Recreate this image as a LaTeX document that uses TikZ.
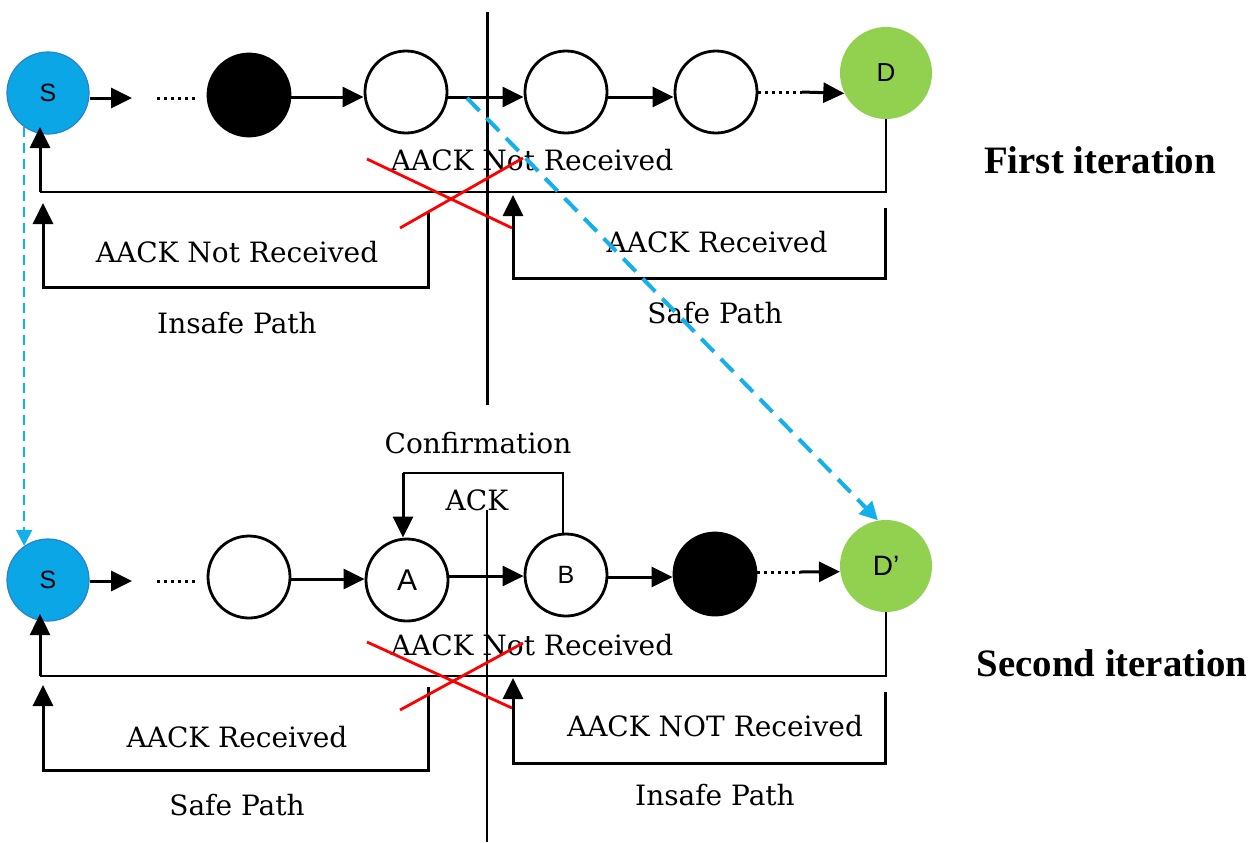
\documentclass[tikz,border=0pt]{standalone}
\usepackage{fontspec}
\setmainfont{DejaVu Serif}
\newfontfamily\labelsans{Liberation Sans}
\newfontfamily\titleserif{Liberation Serif}
\usetikzlibrary{arrows.meta}

\definecolor{srcblue}{RGB}{10,166,230}
\definecolor{srcedge}{RGB}{40,130,205}
\definecolor{dstgreen}{RGB}{146,208,80}
\definecolor{linkblue}{RGB}{20,176,236}
\definecolor{crossred}{RGB}{255,0,0}

\begin{document}
\begin{tikzpicture}[x=0.5pt,y=-0.5pt,
  every node/.style={inner sep=0pt},
  hop/.style={circle,draw=black,line width=1.4pt,fill=white,minimum size=41pt,
    font=\labelsans\fontsize{12.5}{14}\selectfont},
  hopblack/.style={hop,fill=black},
  source/.style={circle,draw=srcedge,line width=0.6pt,fill=srcblue,minimum size=41pt,
    font=\labelsans\fontsize{12.5}{14}\selectfont},
  dest/.style={circle,fill=dstgreen,minimum size=46pt,
    font=\labelsans\fontsize{13}{14}\selectfont},
  link/.style={line width=1.5pt,-{Triangle[length=10.5pt,width=10pt]}},
  dots/.style={line width=1.5pt,dash pattern=on 1.5pt off 2pt},
  loopline/.style={line width=1.1pt},
  uparrow/.style={line width=1.5pt,{Triangle[length=10.5pt,width=10pt]}-},
  cross/.style={crossred,line width=1.4pt},
  jump/.style={linkblue,line width=2pt,dash pattern=on 9pt off 5pt,
    -{Triangle[length=9pt,width=9pt]}},
  drop/.style={linkblue,line width=1pt,dash pattern=on 5pt off 3pt,
    -{Triangle[length=8pt,width=8pt]}},
  txt/.style={font=\fontsize{14}{16}\selectfont},
  title/.style={font=\titleserif\bfseries\fontsize{19.4}{22}\selectfont}
]
\fill[white] (0,0) rectangle (1251,842);
\useasboundingbox (0,0) rectangle (1251,842);

% ---------------- first iteration ----------------
\draw[line width=1.5pt] (487,12) -- (487,405);

\node[source]   (s1) at (48,93)  {S};
\node[hopblack] (k1) at (249,95) {};
\node[hop]      (w1) at (406,92) {};
\node[hop]      (w2) at (566,92) {};
\node[hop]      (w3) at (716,92) {};
\node[dest]     (d1) at (886,73) {D};

\coordinate (s1out) at (132,98);
\coordinate (d1in)  at (802,92);
\draw[link] (s1.east |- s1out) -- (s1out);
\draw[dots] (157,98) -- (198,98);
\draw[link] (k1.east |- 0,97) -- (w1.west |- 0,97);
\draw[link] (w1.east |- 0,97) -- (w2.west |- 0,97);
\draw[link] (w2.east |- 0,97) -- (w3.west |- 0,97);
\draw[dots] (w3.east |- 0,92) -- (d1in);
\draw[link] (d1in) -- (d1.206);

% return path to the source
\coordinate (r1a) at (886,192);
\coordinate (r1b) at (40,192);
\draw[loopline] (d1.south) -- (r1a) -- (r1b);
\draw[uparrow] (s1.235 -| r1b) -- (r1b);

% left bracket: unsafe path
\draw[uparrow] (43,203) -- (43,287) -- (428,287) -- (428,212);
\node[txt] (l1) at (237,252) {AACK Not Received};
\node[txt] (p1) at (237,323) {Insafe Path};

% right bracket: safe path
\draw[uparrow] (513,195) -- (513,278) -- (885,278) -- (885,208);
\node[txt] (l2) at (717,242) {AACK Received};
\node[txt] (p2) at (715,313) {Safe Path};

\node[txt] (m1) at (532,160) {AACK Not Received};
\draw[cross] (367,159) -- (512,228);
\draw[cross] (400,228) -- (523,158);

\node[title] (t1) at (1100,160) {First iteration};

% ---------------- second iteration ----------------
\draw[line width=0.9pt] (487,510) -- (487,842);

\node[source]   (s2) at (48,580)  {S};
\node[hop]      (w4) at (249,577) {};
\node[hop,font=\labelsans\fontsize{15}{16}\selectfont] (a2) at (407,580) {A};
\node[hop]      (b2) at (566,575) {B};
\node[hopblack] (k2) at (715,574) {};
\node[dest,font=\labelsans\fontsize{14}{16}\selectfont] (d2) at (886,566) {D’};

\coordinate (s2out) at (132,581);
\coordinate (d2in)  at (800,572);
\draw[link] (s2.east |- s2out) -- (s2out);
\draw[dots] (157,581) -- (198,581);
\draw[link] (w4.east |- 0,579) -- (a2.west |- 0,579);
\draw[link] (a2.east |- 0,576) -- (b2.west |- 0,576);
\draw[link] (b2.east |- 0,577) -- (k2.west |- 0,577);
\draw[dots] (k2.east |- d2in) -- (d2in);
\draw[link] (d2in) -- (d2.187);

% confirmation loop from B back to A
\coordinate (cf) at (563,473);
\draw[loopline] (b2.north -| cf) -- (cf) -- (403,473);
\draw[link] (403,473) -- (a2.north -| 403,0);
\node[txt] (c1) at (478,443) {Confirmation};
\node[txt] (c2) at (477,500) {ACK};

% return path to the source
\coordinate (r2a) at (886,676);
\coordinate (r2b) at (40,676);
\draw[loopline] (d2.south) -- (r2a) -- (r2b);
\draw[uparrow] (s2.235 -| r2b) -- (r2b);

% left bracket: safe path
\draw[uparrow] (43,685) -- (43,770) -- (428,770) -- (428,687);
\node[txt] (l3) at (237,737) {AACK Received};
\node[txt] (p3) at (237,805) {Safe Path};

% right bracket: unsafe path
\draw[uparrow] (513,678) -- (513,763) -- (885,763) -- (885,692);
\node[txt] (l4) at (715,726) {AACK NOT Received};
\node[txt] (p4) at (715,795) {Insafe Path};

\node[txt] (m2) at (532,645) {AACK Not Received};
\draw[cross] (367,642) -- (512,708);
\draw[cross] (400,710) -- (523,643);

\node[title] (t2) at (1112,663) {Second iteration};

% ---------------- moves between iterations ----------------
\coordinate (jstart) at (467,98);
\draw[jump] (jstart) -- (d2.100);
\draw[drop] (s1.235) -- (s2.125);
\end{tikzpicture}
\end{document}
